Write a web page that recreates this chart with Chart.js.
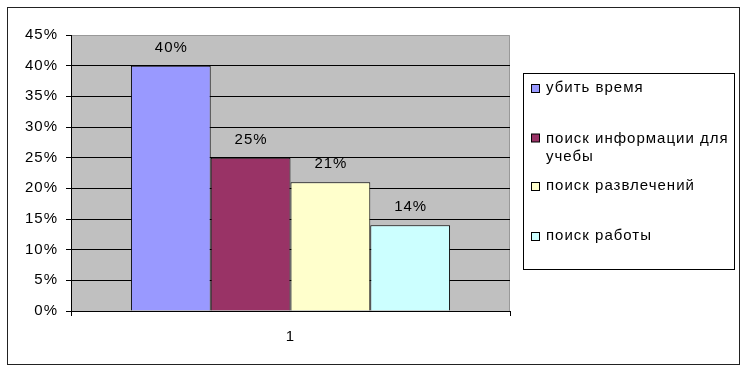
<!DOCTYPE html>
<html>
<head>
<meta charset="utf-8">
<script src="https://cdn.jsdelivr.net/npm/chart.js@4"></script>
<style>
  html, body { margin: 0; padding: 0; background: #fff; }
  #wrap { width: 747px; height: 372px; }
</style>
</head>
<body>
<div id="wrap"><canvas id="c" width="747" height="372"></canvas></div>
<script>
const categories = ['1'];
const seriesLabels = ['убить время', 'поиск информации для учебы', 'поиск развлечений', 'поиск работы'];
const seriesValues = [[40], [25], [21], [14]];
const seriesColors = ['#9999FF', '#993366', '#FFFFCC', '#CCFFFF'];
const yTicks = [0, 5, 10, 15, 20, 25, 30, 35, 40, 45];

const FONT = "'Liberation Sans', Arial, sans-serif";
const SPACING = '1px';

const bgPlugin = {
  id: 'bg',
  beforeDraw(chart) {
    const ctx = chart.ctx, a = chart.chartArea;
    ctx.letterSpacing = SPACING;
    ctx.save();
    ctx.fillStyle = '#fff';
    ctx.fillRect(0, 0, chart.width, chart.height);
    ctx.fillStyle = '#C0C0C0';
    ctx.fillRect(a.left, a.top, a.right - a.left, a.bottom - a.top);
    ctx.strokeStyle = '#999';
    ctx.lineWidth = 1;
    ctx.beginPath();
    ctx.moveTo(a.left, a.top + 0.5);
    ctx.lineTo(a.right - 0.5, a.top + 0.5);
    ctx.lineTo(a.right - 0.5, a.bottom);
    ctx.stroke();
    ctx.restore();
  },
  afterDraw(chart) {
    const ctx = chart.ctx;
    ctx.save();
    ctx.letterSpacing = SPACING;
    // outer frame
    ctx.strokeStyle = '#222';
    ctx.lineWidth = 1;
    ctx.strokeRect(7.5, 7.5, 732, 357);
    // value labels
    ctx.fillStyle = '#000';
    ctx.font = '15px ' + FONT;
    ctx.textAlign = 'center';
    ctx.textBaseline = 'middle';
    chart.data.datasets.forEach((ds, i) => {
      chart.getDatasetMeta(i).data.forEach((bar, j) => {
        ctx.fillText(ds.data[j] + '%', bar.x + 0.5, bar.y - 18);
      });
    });
    // legend
    const lx = 523.5, ly = 73.5, lw = 211, lh = 196;
    ctx.fillStyle = '#fff';
    ctx.fillRect(lx, ly, lw, lh);
    ctx.strokeStyle = '#000';
    ctx.strokeRect(lx, ly, lw, lh);
    ctx.textAlign = 'left';
    const maxW = 190;
    const markerY = [88.5, 138, 186.5, 236.5];
    chart.data.datasets.forEach((ds, i) => {
      const my = markerY[i];
      ctx.fillStyle = ds.backgroundColor;
      ctx.fillRect(531.5, my - 4, 8, 8);
      ctx.strokeStyle = '#000';
      ctx.strokeRect(531.5, my - 4, 8, 8);
      const words = ds.label.split(' ');
      const lines = [];
      let cur = '';
      words.forEach(w => {
        const t = cur ? cur + ' ' + w : w;
        if (ctx.measureText(t).width > maxW && cur) { lines.push(cur); cur = w; }
        else cur = t;
      });
      if (cur) lines.push(cur);
      ctx.fillStyle = '#000';
      lines.forEach((ln, k) => ctx.fillText(ln, 546, my - 1 + (i === 1 ? 1.5 : 0) + k * 18));
    });
    ctx.restore();
  }
};

new Chart(document.getElementById('c'), {
  type: 'bar',
  data: {
    labels: categories,
    datasets: seriesLabels.map((l, i) => ({
      label: l,
      data: seriesValues[i],
      backgroundColor: seriesColors[i],
      borderColor: '#000',
      borderWidth: 1,
      barPercentage: 1,
      categoryPercentage: 0.727
    }))
  },
  options: {
    responsive: false,
    animation: false,
    devicePixelRatio: 1,
    layout: { padding: { left: 0, top: 35, right: 237, bottom: 0 } },
    plugins: { legend: { display: false }, tooltip: { enabled: false } },
    scales: {
      x: {
        grid: { display: true, drawOnChartArea: false, tickLength: 5, color: '#000', offset: true },
        border: { color: '#000' },
        ticks: { color: '#000', font: { size: 15, family: FONT }, padding: 12 },
        afterFit(s) { s.height = 61; }
      },
      y: {
        min: 0, max: 45,
        afterBuildTicks(s) { s.ticks = yTicks.map(v => ({ value: v })); },
        grid: {
          color: c => (c.tick && c.tick.value === 45 ? 'rgba(0,0,0,0)' : '#000'),
          tickColor: '#000',
          tickLength: 5
        },
        border: { color: '#000' },
        ticks: { color: '#000', font: { size: 15, family: FONT }, padding: 8, callback: v => v + '%' },
        afterFit(s) { s.width = 71; }
      }
    }
  },
  plugins: [bgPlugin]
});
</script>
</body>
</html>
